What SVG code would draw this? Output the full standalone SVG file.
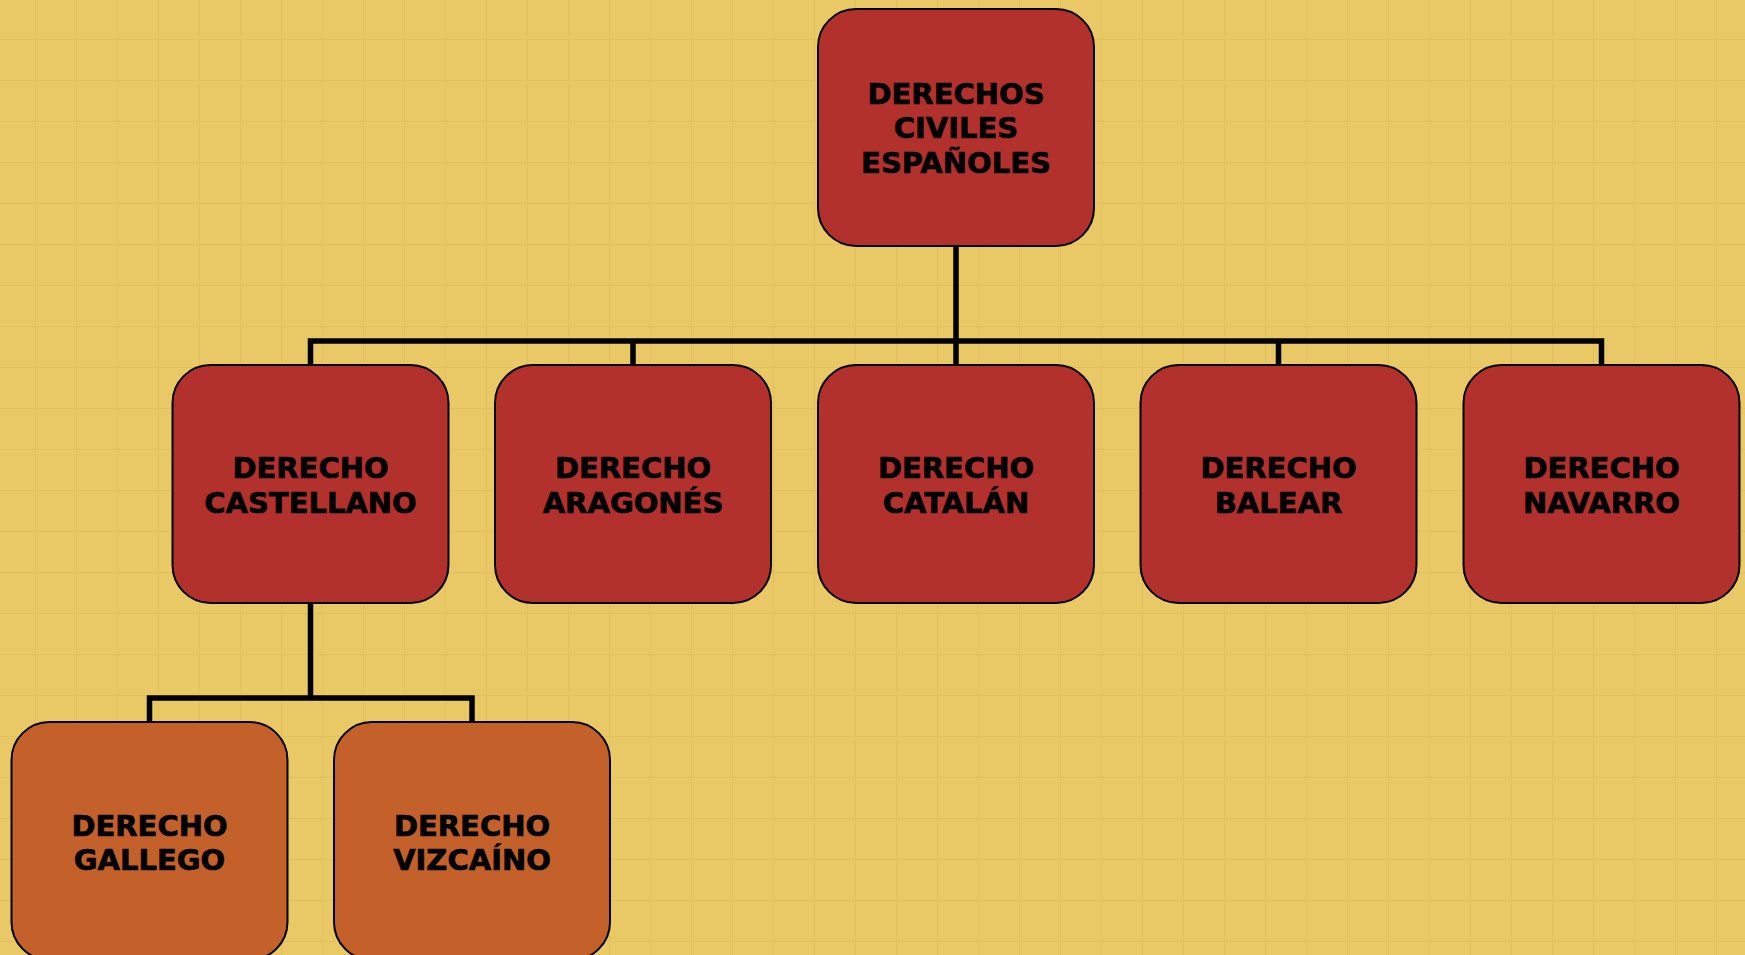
<svg xmlns="http://www.w3.org/2000/svg" width="1745" height="955" viewBox="0 0 1745 955">
<style>
.n1{fill:#B3312D;stroke:#000;stroke-width:2}
.n2{fill:#C4612B;stroke:#000;stroke-width:2}
.t{font-family:"DejaVu Sans",Verdana,sans-serif;font-weight:bold;font-size:29px;fill:#000;stroke:#000;stroke-width:0.7;text-anchor:middle}
.c{fill:none;stroke:#000;stroke-width:5.5}
</style>
<defs>
<pattern id="grid" x="-5" y="-1" width="41" height="41" patternUnits="userSpaceOnUse">
<rect width="41" height="41" fill="#E8C966"/>
<path d="M41 0V41M0 41H41" stroke="#E0BE5A" stroke-width="2" opacity="0.7"/>
</pattern>
</defs>
<rect width="1745" height="955" fill="url(#grid)"/>
<g id="connectors">
<path class="c" d="M956 246V365"/>
<path class="c" d="M310.5 365V341H1601.5V365"/>
<path class="c" d="M633 341V365"/>
<path class="c" d="M1278.5 341V365"/>
<path class="c" d="M310.5 603V698"/>
<path class="c" d="M149.5 722V698H472V722"/>
</g>
<g id="root">
<rect class="n1" x="818" y="9" width="276" height="237" rx="38"/>
<text class="t" x="956" y="103.5">DERECHOS</text>
<text class="t" x="956" y="138">CIVILES</text>
<text class="t" x="956" y="172.5">ESPAÑOLES</text>
</g>
<g id="castellano">
<rect class="n1" x="172.5" y="365" width="276" height="238" rx="38"/>
<text class="t" x="310.5" y="478">DERECHO</text>
<text class="t" x="310.5" y="513">CASTELLANO</text>
</g>
<g id="aragones">
<rect class="n1" x="495" y="365" width="276" height="238" rx="38"/>
<text class="t" x="633" y="478">DERECHO</text>
<text class="t" x="633" y="513">ARAGONÉS</text>
</g>
<g id="catalan">
<rect class="n1" x="818" y="365" width="276" height="238" rx="38"/>
<text class="t" x="956" y="478">DERECHO</text>
<text class="t" x="956" y="513">CATALÁN</text>
</g>
<g id="balear">
<rect class="n1" x="1140.5" y="365" width="276" height="238" rx="38"/>
<text class="t" x="1278.5" y="478">DERECHO</text>
<text class="t" x="1278.5" y="513">BALEAR</text>
</g>
<g id="navarro">
<rect class="n1" x="1463.5" y="365" width="276" height="238" rx="38"/>
<text class="t" x="1601.5" y="478">DERECHO</text>
<text class="t" x="1601.5" y="513">NAVARRO</text>
</g>
<g id="gallego">
<rect class="n2" x="11.5" y="722" width="276" height="238" rx="38"/>
<text class="t" x="149.5" y="836">DERECHO</text>
<text class="t" x="149.5" y="870">GALLEGO</text>
</g>
<g id="vizcaino">
<rect class="n2" x="334" y="722" width="276" height="238" rx="38"/>
<text class="t" x="472" y="836">DERECHO</text>
<text class="t" x="472" y="870">VIZCAÍNO</text>
</g>
</svg>
